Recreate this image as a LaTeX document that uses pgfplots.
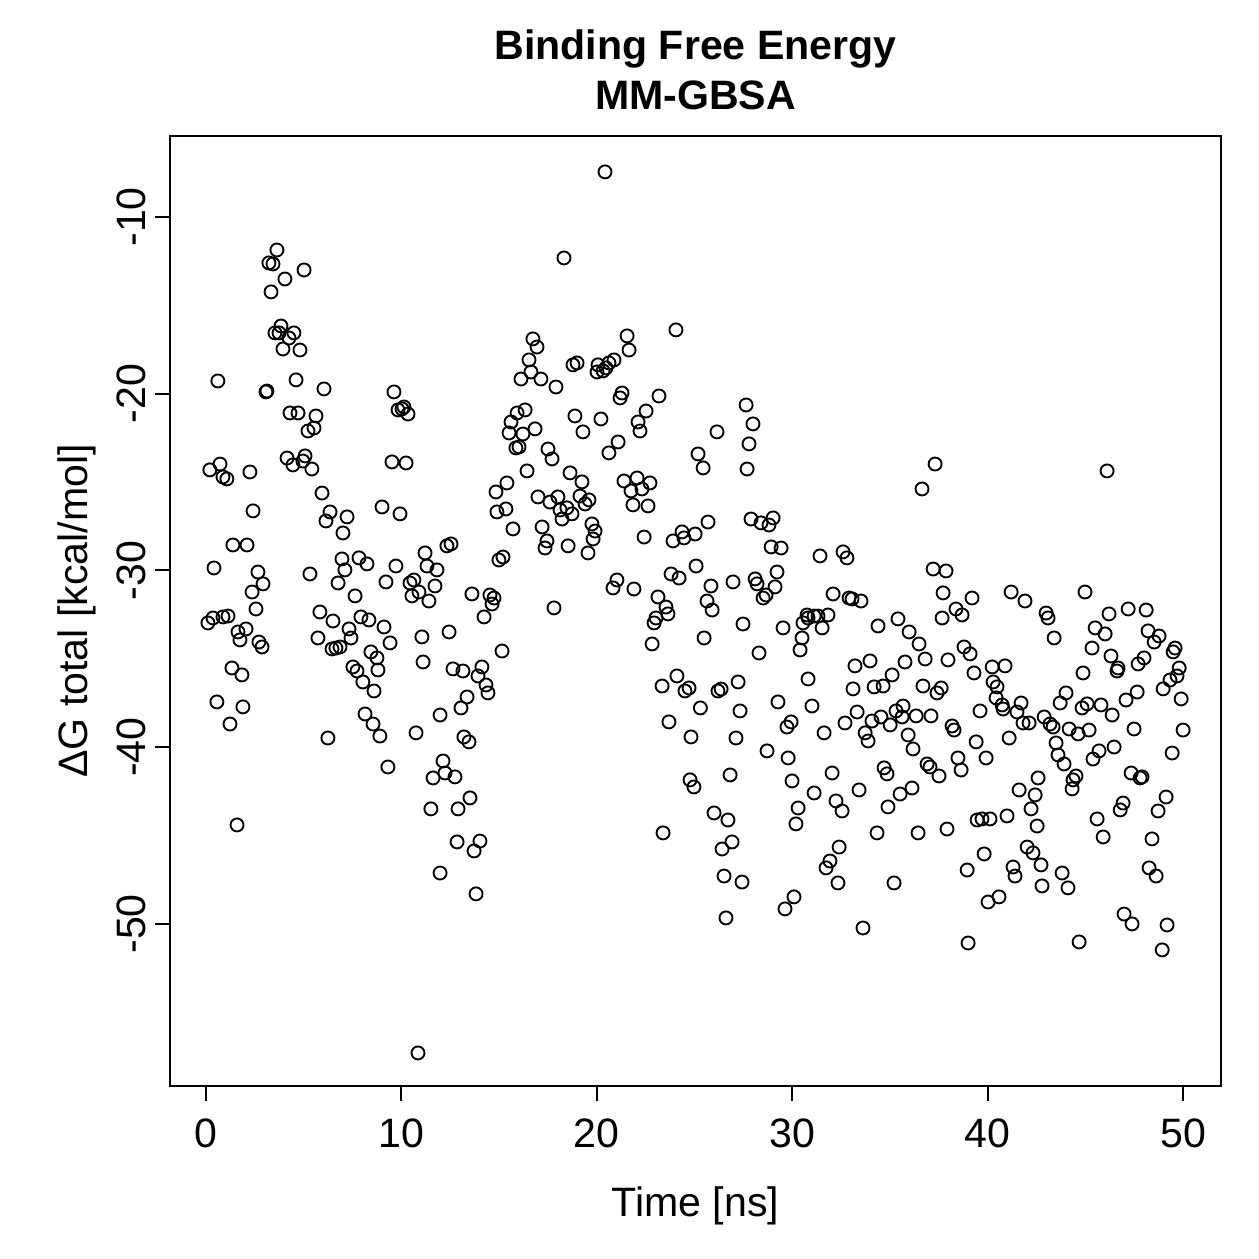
\documentclass[border=0pt]{standalone}
\usepackage{fontspec}
\setmainfont{Liberation Sans}
\usepackage{pgfplots}
\pgfplotsset{compat=1.18}
\begin{document}
\begin{tikzpicture}
\useasboundingbox (-68bp,-69.2bp) rectangle (435.6bp,434.4bp);
\begin{axis}[
 at={(0,0)}, anchor=south west,
 scale only axis, width=420.4bp, height=380bp,
 xmin=-1.84, xmax=51.94, ymin=-59.17, ymax=-5.42,
 axis line style={line width=0.9bp},
 xtick={0,10,20,30,40,50}, xticklabels={0,10,20,30,40,50},
 ytick={-50,-40,-30,-20,-10}, yticklabels={-50,-40,-30,-20,-10},
 tick align=outside, xtick pos=left, ytick pos=left,
 major tick length=6bp, tick style={line width=0.75bp, black},
 ticklabel style={font=\fontsize{16.5}{19}\selectfont},
 xticklabel style={anchor=north, yshift=-3.5bp},
 yticklabel style={rotate=90, anchor=south},
 clip=false,
]
\addplot[only marks, mark=o, mark size=2.6bp, mark options={line width=0.75bp, black}] table {
x y
0.10 -32.97
0.20 -24.31
0.36 -32.69
0.41 -29.86
0.56 -37.44
0.61 -19.28
0.72 -23.98
0.87 -24.71
1.07 -24.82
0.87 -32.63
1.13 -32.58
1.23 -38.69
1.33 -35.52
1.38 -28.56
1.59 -44.40
1.64 -33.48
1.74 -33.93
1.84 -35.91
1.89 -37.72
2.05 -33.31
2.10 -28.56
2.25 -24.43
2.36 -31.22
2.41 -26.63
2.56 -32.18
2.66 -30.09
2.71 -34.05
2.87 -34.33
2.92 -30.76
3.63 -11.87
3.22 -12.60
3.43 -12.66
5.02 -13.00
4.04 -13.51
3.33 -14.24
3.84 -16.17
3.53 -16.56
3.74 -16.56
4.50 -16.56
4.25 -16.85
3.94 -17.47
4.81 -17.53
4.61 -19.22
3.07 -19.90
3.12 -19.85
6.04 -19.73
9.62 -19.90
10.13 -20.75
9.83 -20.92
10.03 -20.86
10.34 -21.15
4.30 -21.09
4.71 -21.09
5.63 -21.26
5.22 -22.11
5.53 -21.94
4.15 -23.64
4.45 -24.03
4.96 -23.81
5.07 -23.52
5.42 -24.26
9.52 -23.86
10.24 -23.92
5.94 -25.62
6.35 -26.69
6.14 -27.20
7.22 -26.97
7.01 -27.88
9.01 -26.41
9.93 -26.80
11.21 -29.01
12.33 -28.61
11.31 -29.75
11.82 -29.97
11.72 -30.88
6.96 -29.35
7.83 -29.29
8.24 -29.63
7.11 -29.97
9.72 -29.75
5.32 -30.20
6.76 -30.71
9.21 -30.65
10.44 -30.71
10.64 -30.54
10.90 -31.22
10.54 -31.44
11.41 -31.73
7.63 -31.44
5.83 -32.35
6.50 -32.86
7.93 -32.63
8.34 -32.80
9.11 -33.20
7.32 -33.31
7.42 -33.82
5.73 -33.82
6.45 -34.44
6.65 -34.39
6.86 -34.33
9.42 -34.10
8.44 -34.61
8.75 -34.95
8.80 -35.63
7.52 -35.46
7.73 -35.69
8.03 -36.31
8.60 -36.82
11.05 -33.76
12.44 -33.48
11.11 -35.18
8.14 -38.12
8.55 -38.69
8.90 -39.37
6.24 -39.48
10.75 -39.19
11.98 -38.18
12.13 -40.78
9.31 -41.12
11.62 -41.74
12.23 -41.46
12.74 -41.68
13.51 -42.87
12.90 -43.49
11.51 -43.49
12.85 -45.36
14.02 -45.31
13.72 -45.87
11.98 -47.12
13.82 -48.30
10.85 -57.30
20.42 -7.45
18.32 -12.32
24.05 -16.39
16.73 -16.90
16.94 -17.36
21.55 -16.73
21.65 -17.53
16.53 -18.09
16.63 -18.77
16.12 -19.17
17.14 -19.17
17.91 -19.62
18.78 -18.37
18.99 -18.26
20.06 -18.37
20.01 -18.77
20.32 -18.71
20.47 -18.54
20.62 -18.26
20.88 -18.09
21.29 -19.96
21.19 -20.24
23.18 -20.13
22.52 -20.98
22.11 -21.60
22.21 -22.11
16.33 -20.92
15.92 -21.09
15.61 -21.60
15.51 -22.22
16.22 -22.28
16.84 -21.99
15.86 -23.07
16.02 -23.01
17.50 -23.13
17.71 -23.69
18.88 -21.26
19.29 -22.16
20.21 -21.43
21.09 -22.73
20.62 -23.35
25.18 -23.41
16.43 -24.37
18.63 -24.48
19.24 -24.99
15.40 -25.05
14.84 -25.56
16.99 -25.84
17.60 -26.13
18.01 -25.84
19.14 -25.79
19.60 -26.01
19.40 -26.24
18.47 -26.46
18.12 -26.58
18.73 -26.80
18.22 -27.09
14.89 -26.69
15.35 -26.52
21.39 -24.94
22.06 -24.77
22.72 -25.05
21.75 -25.50
22.31 -25.39
21.85 -26.29
22.62 -26.35
15.71 -27.65
17.20 -27.54
19.75 -27.37
19.91 -27.77
19.81 -28.22
17.45 -28.33
17.35 -28.73
18.53 -28.61
19.55 -29.01
22.42 -28.11
24.36 -27.82
23.90 -28.33
24.46 -28.16
25.03 -27.94
12.54 -28.50
14.99 -29.41
15.20 -29.24
25.08 -29.75
21.03 -30.54
20.83 -30.99
21.90 -31.05
23.80 -30.20
24.21 -30.43
23.13 -31.50
23.54 -32.07
23.64 -32.46
23.03 -32.69
22.93 -32.97
13.61 -31.33
14.53 -31.39
14.74 -31.56
14.64 -31.90
14.23 -32.63
17.81 -32.12
15.15 -34.56
22.83 -34.16
12.64 -35.57
13.15 -35.69
14.12 -35.46
13.92 -35.97
14.33 -36.48
14.43 -36.93
13.36 -37.16
13.05 -37.78
13.20 -39.42
13.46 -39.70
24.10 -35.97
23.34 -36.54
24.51 -36.82
24.72 -36.65
23.69 -38.57
24.82 -39.42
25.30 -37.78
27.64 -20.64
27.99 -21.71
26.15 -22.16
27.79 -22.84
37.31 -23.98
25.44 -24.20
27.69 -24.26
36.64 -25.39
25.69 -27.26
27.89 -27.09
28.40 -27.31
28.81 -27.43
29.02 -27.03
28.92 -28.67
29.43 -28.73
31.42 -29.18
32.60 -28.95
32.80 -29.29
29.22 -30.09
26.97 -30.65
25.84 -30.88
28.10 -30.48
28.20 -30.76
29.12 -30.93
28.66 -31.39
28.51 -31.56
25.64 -31.73
25.90 -32.24
32.09 -31.33
32.91 -31.56
33.06 -31.61
33.52 -31.73
37.21 -29.92
37.87 -30.03
37.72 -31.27
37.67 -32.69
27.48 -33.03
29.53 -33.25
30.55 -32.97
30.81 -32.69
30.76 -32.52
31.12 -32.58
31.32 -32.58
31.83 -32.52
31.53 -33.25
30.50 -33.82
30.40 -34.50
25.49 -33.82
28.30 -34.67
34.39 -33.14
35.41 -32.74
35.98 -33.48
36.49 -34.16
36.80 -35.01
35.77 -35.18
33.98 -35.12
33.21 -35.40
35.11 -35.91
34.19 -36.59
34.65 -36.54
33.11 -36.70
36.69 -36.54
37.41 -36.93
37.62 -36.65
37.97 -35.06
30.81 -36.14
27.23 -36.31
26.20 -36.82
26.36 -36.71
27.33 -37.95
29.27 -37.44
31.01 -37.67
29.73 -38.86
29.94 -38.57
31.63 -39.19
27.12 -39.48
28.71 -40.21
29.79 -40.61
32.70 -38.63
33.32 -38.01
34.08 -38.52
34.54 -38.29
35.01 -38.74
35.31 -37.95
35.67 -37.67
35.62 -38.29
36.34 -38.23
37.10 -38.23
33.73 -39.19
33.88 -39.65
35.93 -39.31
36.18 -40.10
34.70 -41.17
36.90 -40.95
37.05 -41.12
46.11 -24.37
41.20 -31.22
41.91 -31.73
44.98 -31.22
39.20 -31.56
38.38 -32.18
38.69 -32.52
42.99 -32.41
43.09 -32.69
43.40 -33.82
46.21 -32.46
47.19 -32.18
48.11 -32.24
45.50 -33.25
46.01 -33.59
48.21 -33.42
48.77 -33.71
48.52 -34.05
45.34 -34.39
49.59 -34.39
49.49 -34.61
38.79 -34.33
39.10 -34.72
46.31 -34.84
48.00 -34.95
47.70 -35.29
46.67 -35.52
46.62 -35.69
49.80 -35.52
49.69 -35.97
49.33 -36.20
48.98 -36.70
44.88 -35.80
39.30 -35.80
40.23 -35.46
40.89 -35.40
40.28 -36.31
40.48 -36.59
40.43 -37.21
40.74 -37.61
40.79 -37.84
41.71 -37.50
41.50 -38.01
41.81 -38.63
42.12 -38.63
39.61 -37.95
38.18 -38.80
38.28 -39.03
39.41 -39.70
41.10 -39.48
38.48 -40.61
39.92 -40.61
44.01 -36.93
43.71 -37.50
44.83 -37.78
45.09 -37.55
45.80 -37.61
46.37 -38.18
47.08 -37.33
47.65 -36.88
49.90 -37.27
42.89 -38.29
43.19 -38.69
43.35 -38.86
44.17 -38.97
44.63 -39.25
45.19 -39.03
47.49 -38.97
50.00 -39.03
43.50 -39.76
43.60 -40.44
43.91 -40.95
45.70 -40.21
45.39 -40.67
46.47 -39.99
49.44 -40.33
38.64 -41.29
37.51 -41.63
41.61 -42.42
42.58 -41.74
42.43 -42.70
42.22 -43.49
42.53 -44.46
44.52 -41.63
44.37 -41.85
44.32 -42.36
47.34 -41.46
47.80 -41.74
47.90 -41.68
49.13 -42.82
46.93 -43.16
46.78 -43.55
48.72 -43.61
45.60 -44.06
45.91 -45.08
48.41 -45.19
40.99 -43.89
39.46 -44.12
39.71 -44.06
40.12 -44.06
37.92 -44.63
39.82 -46.04
38.95 -46.95
42.02 -45.65
42.32 -45.98
41.30 -46.78
41.40 -47.29
42.73 -46.66
43.81 -47.12
42.78 -47.85
44.11 -47.96
40.58 -48.47
40.02 -48.76
48.26 -46.83
48.62 -47.29
46.98 -49.44
47.39 -50.00
49.18 -50.06
39.00 -51.08
44.68 -51.02
48.93 -51.47
24.77 -41.85
24.97 -42.25
26.82 -41.57
29.99 -41.91
32.04 -41.46
31.12 -42.59
30.30 -43.44
30.19 -44.34
32.24 -43.04
32.55 -43.61
33.42 -42.42
34.85 -41.51
36.13 -42.31
35.52 -42.65
34.90 -43.38
34.34 -44.85
36.44 -44.85
26.00 -43.72
26.71 -44.12
26.92 -45.36
26.41 -45.76
26.51 -47.29
27.43 -47.63
26.61 -49.66
32.40 -45.65
31.93 -46.44
31.73 -46.83
32.34 -47.68
30.09 -48.47
29.63 -49.15
35.21 -47.68
33.62 -50.23
23.39 -44.85
};
\node[font=\bfseries\fontsize{16.5}{19}\selectfont] at (rel axis cs:0.5,1.0915) {Binding Free Energy};
\node[font=\bfseries\fontsize{16.5}{19}\selectfont] at (rel axis cs:0.5,1.0425) {MM-GBSA};
\node[font=\fontsize{16.5}{19}\selectfont] at (rel axis cs:0.5,-0.1265) {Time [ns]};
\node[font=\fontsize{16.5}{19}\selectfont, rotate=90] at (rel axis cs:-0.0885,0.5) {ΔG total [kcal/mol]};
\end{axis}
\end{tikzpicture}
\end{document}
